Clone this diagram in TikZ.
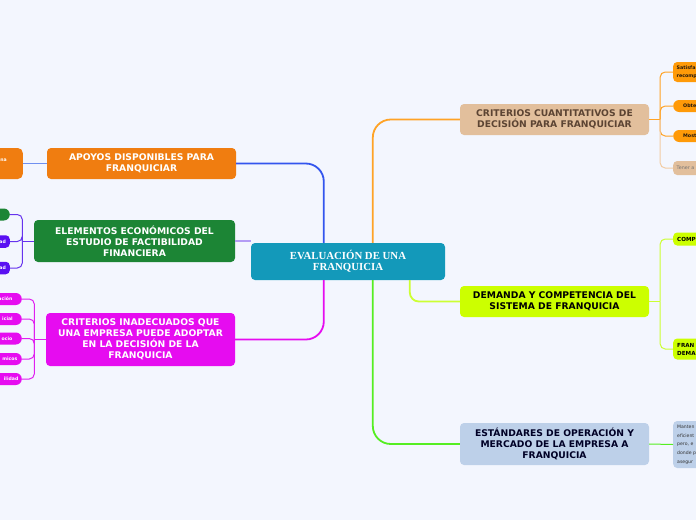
\documentclass[tikz,border=0pt]{standalone}
\usepackage{fontspec}
\setmainfont{DejaVu Sans}
\newfontfamily\serifb{Liberation Serif}
\usetikzlibrary{calc}
\definecolor{bgc}{HTML}{F3F6FE}
\definecolor{cteal}{HTML}{1399BA}
\definecolor{corange}{HTML}{F07D10}
\definecolor{cgreen}{HTML}{1C8535}
\definecolor{cmag}{HTML}{E60CF0}
\definecolor{ctan}{HTML}{E2BF9C}
\definecolor{clime}{HTML}{CCFF00}
\definecolor{clblue}{HTML}{BDD0E9}
\definecolor{cpurple}{HTML}{5A10F2}
\definecolor{cporange}{HTML}{FF9A08}
\definecolor{lnblue}{HTML}{3355EE}
\definecolor{lnlav}{HTML}{B49CF5}
\definecolor{lnorange}{HTML}{FFA326}
\definecolor{lnlime}{HTML}{CCFF33}
\definecolor{lngreen}{HTML}{55EE22}
\definecolor{lnpurple}{HTML}{6633EE}
\definecolor{lnmag}{HTML}{E020F0}
\definecolor{lnsky}{HTML}{7090F0}
\definecolor{lntan}{HTML}{F2CCA4}
\definecolor{tbrown}{HTML}{5C4433}
\tikzset{
  mainbox/.style={rounded corners=4pt, align=center, inner sep=0pt,
    font=\bfseries\fontsize{9.2}{11}\selectfont, minimum width=189pt},
  leftpill/.style={rounded corners=4pt, anchor=east, inner ysep=0pt, align=right,
    text=white, font=\bfseries\fontsize{4.6}{6}\selectfont, text width=40pt},
  rightpill/.style={rounded corners=4pt, anchor=west, inner ysep=0pt, align=left,
    font=\bfseries\fontsize{4.8}{8}\selectfont, text width=40pt},
  mainln/.style={line width=1.8pt, rounded corners=18pt},
  subln/.style={line width=1pt, rounded corners=5pt},
}
\begin{document}
\begin{tikzpicture}[x=1pt,y=-1pt]
\fill[bgc] (0,0) rectangle (696,520);
\useasboundingbox (0,0) rectangle (696,520);

% central
\node[rounded corners=4pt, fill=cteal, text=white, align=center, inner sep=0pt,
  minimum width=194pt, minimum height=37pt,
  font=\serifb\bfseries\fontsize{10.8}{11}\selectfont] (c) at (348,261.5)
  {EVALUACIÓN DE UNA\\FRANQUICIA};

% left main nodes
\node[mainbox, fill=corange, text=white, minimum height=31pt] (apo) at (141.5,163.5)
  {APOYOS DISPONIBLES PARA\\FRANQUICIAR};
\node[mainbox, fill=cgreen, text=white, minimum width=201pt, minimum height=42pt] (ele) at (134.5,241)
  {ELEMENTOS ECONÓMICOS DEL\\ESTUDIO DE FACTIBILIDAD\\FINANCIERA};
\node[mainbox, fill=cmag, text=white, minimum height=53pt] (ina) at (140.5,339.5)
  {CRITERIOS INADECUADOS QUE\\UNA EMPRESA PUEDE ADOPTAR\\EN LA DECISIÓN DE LA\\FRANQUICIA};

% right main nodes
\node[mainbox, fill=ctan, text=tbrown, minimum height=31pt] (cua) at (554.5,119.5)
  {CRITERIOS CUANTITATIVOS DE\\DECISIÓN PARA FRANQUICIAR};
\node[mainbox, fill=clime, text=black, minimum height=31pt] (dem) at (554.5,301.5)
  {DEMANDA Y COMPETENCIA DEL\\SISTEMA DE FRANQUICIA};
\node[mainbox, fill=clblue, text=black!85!blue, minimum height=42pt] (est) at (554.5,444)
  {ESTÁNDARES DE OPERACIÓN Y\\MERCADO DE LA EMPRESA A\\FRANQUICIA};

% main connectors
\draw[mainln, lnblue] ([xshift=73pt]c.north west) |- (apo.east);
\draw[line width=1.2pt, lnlav] (ele.east) -- (ele.east -| c.west);
\draw[mainln, cmag] ([xshift=73pt]c.south west) |- (ina.east);
\draw[mainln, lnorange] ([xshift=122pt]c.north west) |- (cua.west);
\draw[mainln, lnlime, rounded corners=9pt] ([xshift=159pt]c.south west) |- (dem.west);
\draw[mainln, lngreen] ([xshift=122pt]c.south west) |- (est.west);

% left small nodes
\node[leftpill, fill=corange, rounded corners=5pt, minimum height=31pt, inner xsep=16pt] (o1) at (23,163.5) {na\\\mbox{}};
\node[leftpill, fill=cgreen, rounded corners=6pt, minimum height=12pt, inner xsep=4pt] (g1) at (10,214.5) {\mbox{}};
\node[leftpill, fill=cpurple, minimum height=12.5pt, inner xsep=4pt] (p1) at (10,241.5) {ad};
\node[leftpill, fill=cpurple, minimum height=12.5pt, inner xsep=4pt] (p2) at (10,268) {ad};
\node[leftpill, fill=cmag, rounded corners=6pt, minimum height=12pt, inner xsep=9.5pt] (m1) at (22,299) {ación};
\node[leftpill, fill=cmag, rounded corners=6pt, minimum height=12pt, inner xsep=9pt] (m2) at (22,319) {icial};
\node[leftpill, fill=cmag, rounded corners=6pt, minimum height=12pt, inner xsep=9.5pt] (m3) at (22,338.5) {ocio};
\node[leftpill, fill=cmag, rounded corners=6pt, minimum height=12pt, inner xsep=4.5pt] (m4) at (22,359) {micos};
\node[leftpill, fill=cmag, rounded corners=6pt, minimum height=12pt, inner xsep=3.5pt] (m5) at (22,379) {ilidad};

\coordinate (je) at ([xshift=-11.5pt]ele.west);
\coordinate (ji) at ([xshift=-11.5pt]ina.west);
\draw[line width=1pt, lnsky] (apo.west) -- (o1.east);
\draw[subln, lnpurple] (ele.west) -- (je);
\foreach \n in {g1,p1,p2} \draw[subln, lnpurple] (je) |- (\n.east);
\draw[subln, lnmag] (ina.west) -- (ji);
\foreach \n in {m1,m2,m3,m4,m5} \draw[subln, lnmag] (ji) |- (\n.east);

% right small nodes
\node[rightpill, fill=cporange, text=black!80!brown, minimum height=20pt, inner xsep=3.5pt] (r1) at (673,72) {Satisfa\\recomp};
\node[rightpill, fill=cporange, text=black!80!brown, rounded corners=6pt, minimum height=12pt, inner xsep=10pt] (r2) at (673,106) {Obte};
\node[rightpill, fill=cporange, text=black!80!brown, rounded corners=6pt, minimum height=12pt, inner xsep=10pt] (r3) at (673,136) {Most};
\node[rightpill, fill=ctan, text=black!55, font=\fontsize{4.8}{8}\selectfont, minimum height=14pt, inner xsep=3.5pt] (r4) at (673,168) {Tener a};
\node[rightpill, fill=clime, text=black, font=\bfseries\fontsize{5.6}{8}\selectfont, minimum height=13pt, inner xsep=4pt] (l1) at (673,239) {COMP};
\node[rightpill, fill=clime, text=black, font=\bfseries\fontsize{5.6}{8}\selectfont, minimum height=21pt, inner xsep=4pt] (l2) at (673,349) {FRAN\\DEMA};
\node[rightpill, fill=clblue, text=black!80, font=\fontsize{4.6}{8.7}\selectfont, minimum height=47pt, inner xsep=4pt] (b1) at (673,444.5) {Manten\\eficient\\pero, e\\donde p\\asegur};

\coordinate (jc) at ([xshift=11pt]cua.east);
\coordinate (jd) at ([xshift=11pt]dem.east);
\draw[subln, lnorange] (cua.east) -- (jc);
\foreach \n in {r1,r2,r3} \draw[subln, lnorange] (jc) |- (\n.west);
\draw[subln, lntan] (jc) |- (r4.west);
\draw[subln, lnlime] (dem.east) -- (jd);
\foreach \n in {l1,l2} \draw[subln, lnlime] (jd) |- (\n.west);
\draw[line width=1pt, lngreen] (est.east) -- (b1.west);
\end{tikzpicture}
\end{document}
